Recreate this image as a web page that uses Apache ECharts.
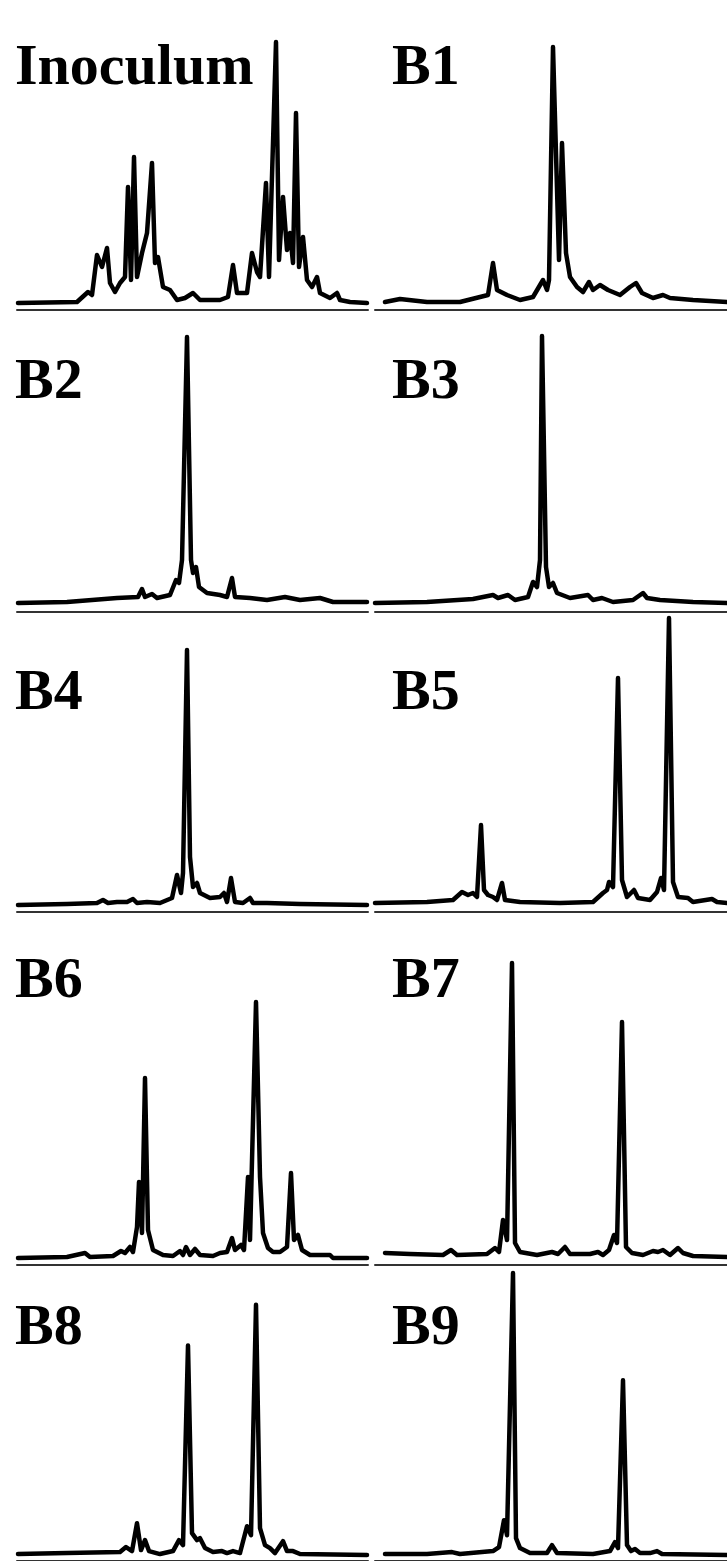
<!DOCTYPE html>
<html><head><meta charset="utf-8">
<script src="https://cdn.jsdelivr.net/npm/echarts@6/dist/echarts.min.js"></script>
<style>html,body{margin:0;padding:0;background:#fff}#c{width:727px;height:1561px}</style>
</head><body><div id="c"></div>
<script>
// Panel names
const panelNames = ['Inoculum','B1','B2','B3','B4','B5','B6','B7','B8','B9'];

// Traces: [retention position, intensity]
const inoculum = [[1,7],[60,8],[71,18],[75,15],[80,55],[85,43],[90,62],[93,27],[98,18],[103,27],[108,33],[111,123],[114,30],[117,153],[120,33],[125,57],[130,77],[135,147],[138,47],[141,53],[146,23],[153,20],[160,10],[168,12],[176,17],[183,10],[203,10],[211,13],[216,45],[220,17],[230,17],[235,57],[240,38],[243,33],[249,127],[252,33],[259,268],[262,50],[266,113],[270,60],[273,77],[276,47],[279,197],[282,43],[286,73],[290,30],[295,23],[300,33],[303,17],[313,12],[320,17],[323,10],[333,8],[350,7]];
const b1 = [[10,8],[25,11],[52,8],[85,8],[105,13],[113,15],[118,47],[122,20],[132,15],[145,10],[158,13],[168,30],[172,20],[174,30],[178,263],[184,50],[187,167],[191,57],[195,33],[202,23],[208,18],[214,28],[218,20],[225,25],[233,20],[245,15],[255,23],[261,27],[267,17],[278,12],[288,15],[295,12],[318,10],[352,8]];
const b2 = [[1,9],[50,10],[100,14],[121,15],[125,23],[128,15],[135,18],[140,14],[153,17],[159,32],[162,29],[165,52],[170,275],[174,52],[176,39],[179,45],[182,25],[190,19],[203,17],[210,15],[215,34],[218,15],[233,14],[250,12],[268,15],[283,12],[303,14],[316,10],[350,10]];
const b3 = [[0,9],[52,10],[98,13],[118,17],[123,14],[133,17],[140,12],[153,15],[158,30],[162,25],[165,52],[167,276],[171,45],[174,25],[178,29],[182,19],[195,14],[213,17],[218,12],[227,14],[238,10],[258,12],[268,19],[272,14],[285,12],[318,10],[352,9]];
const b4 = [[1,7],[50,8],[80,9],[86,12],[91,9],[100,10],[110,10],[116,13],[120,9],[130,10],[143,9],[155,14],[160,37],[164,19],[166,39],[170,262],[173,55],[176,25],[180,29],[183,19],[193,14],[203,15],[207,19],[210,10],[214,34],[218,10],[226,9],[233,14],[236,9],[250,9],[283,8],[350,7]];
const b5 = [[0,9],[52,10],[78,12],[87,20],[93,17],[98,19],[102,15],[106,87],[109,22],[113,17],[118,15],[122,12],[127,29],[130,12],[145,10],[185,9],[218,10],[228,19],[232,22],[234,30],[238,25],[243,234],[247,32],[252,15],[259,22],[263,14],[275,12],[282,20],[286,34],[289,22],[294,294],[298,30],[303,15],[313,14],[318,10],[337,13],[342,10],[352,9]];
const b6 = [[1,7],[50,8],[68,12],[73,8],[96,9],[104,14],[108,12],[113,18],[116,13],[120,38],[122,83],[125,32],[128,187],[131,35],[136,15],[146,10],[156,9],[163,14],[166,10],[169,18],[173,10],[178,16],[183,10],[196,9],[203,12],[210,13],[215,27],[218,15],[224,20],[227,15],[231,88],[233,25],[239,263],[243,88],[246,32],[251,17],[256,13],[263,13],[270,18],[274,92],[277,25],[281,30],[285,15],[293,10],[313,10],[316,7],[350,7]];
const b7 = [[10,12],[35,11],[68,10],[76,15],[82,10],[112,11],[120,17],[124,13],[128,45],[132,25],[137,302],[140,22],[145,13],[162,10],[177,13],[183,11],[190,18],[195,11],[215,11],[223,13],[228,10],[234,15],[239,30],[242,22],[247,243],[251,18],[257,12],[268,10],[278,14],[283,13],[288,15],[295,10],[303,17],[308,12],[318,9],[352,8]];
const b8 = [[1,7],[50,8],[103,9],[109,14],[115,10],[120,38],[124,11],[128,21],[132,10],[143,7],[156,10],[162,21],[166,16],[171,217],[175,28],[180,21],[183,23],[188,13],[196,9],[205,10],[210,8],[216,10],[223,8],[230,35],[234,26],[239,258],[243,33],[248,16],[253,13],[258,8],[266,20],[270,10],[276,10],[283,7],[350,6]];
const b9 = [[10,7],[52,7],[77,9],[85,7],[118,10],[124,14],[129,41],[132,26],[138,290],[141,23],[145,13],[155,8],[172,8],[177,16],[182,8],[218,7],[235,10],[240,19],[243,13],[248,182],[252,16],[256,10],[260,12],[265,8],[275,8],[282,10],[287,7],[352,6]];

const traces = [inoculum, b1, b2, b3, b4, b5, b6, b7, b8, b9];

// Layout (pixels)
const colLeft = [17, 375];
const colWidth = [351, 352];
const rowTop = [0, 310, 612, 912, 1265];
const rowHeight = [310, 302, 300, 353, 298];
const labelX = [15, 392];
const labelBaseline = [88, 402, 713, 1001, 1348];

const grids = [], xAxes = [], yAxes = [], series = [], graphics = [];
traces.forEach((d, i) => {
  const r = Math.floor(i / 2), c = i % 2;
  grids.push({left: colLeft[c], width: colWidth[c], top: rowTop[r], height: rowHeight[r], containLabel: false});
  xAxes.push({type: 'value', gridIndex: i, min: 0, max: colWidth[c],
    axisLine: {show: true, onZero: false, lineStyle: {color: '#333', width: 2}},
    axisTick: {show: false}, axisLabel: {show: false}, splitLine: {show: false}});
  yAxes.push({type: 'value', gridIndex: i, min: 0, max: rowHeight[r], show: false,
    splitLine: {show: false}});
  series.push({type: 'line', xAxisIndex: i, yAxisIndex: i, data: d, showSymbol: false,
    symbol: 'none', smooth: false, animation: false, clip: false,
    lineStyle: {color: '#000', width: 4.5, join: 'round', cap: 'round'}});
  graphics.push({type: 'text', left: labelX[c], top: labelBaseline[r] - 48, silent: true,
    style: {text: panelNames[i], fill: '#000',
      font: 'bold 58px "Liberation Serif", "Times New Roman", serif'}});
});

const chart = echarts.init(document.getElementById('c'), null, {renderer: 'canvas'});
chart.setOption({
  backgroundColor: '#fff',
  animation: false,
  grid: grids, xAxis: xAxes, yAxis: yAxes, series: series,
  graphic: graphics
});
</script></body></html>
